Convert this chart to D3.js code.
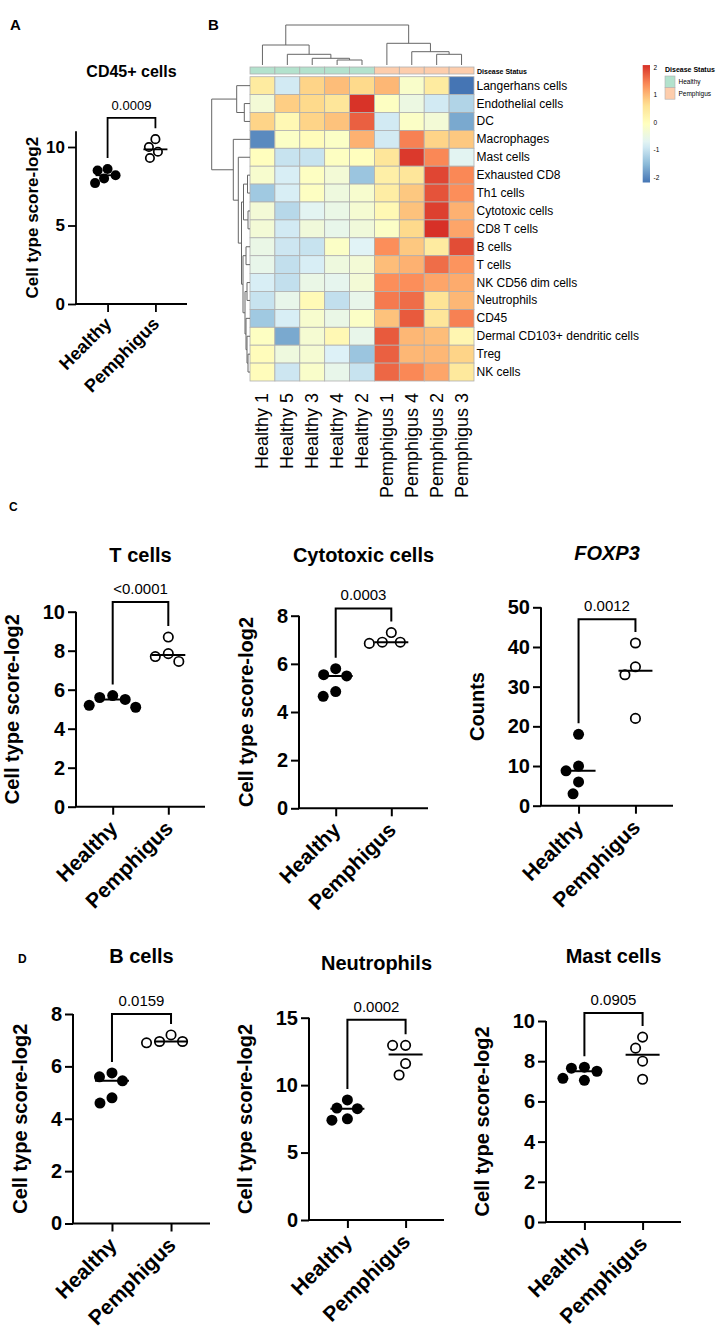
<!DOCTYPE html>
<html><head><meta charset="utf-8">
<script src="https://cdn.jsdelivr.net/npm/d3@7"></script>
<style>
body{margin:0;background:#fff}
svg text{font-family:"Liberation Sans",Arial,Helvetica,sans-serif;fill:#000}
</style>
</head><body>
<svg id="fig" width="720" height="1339"></svg>
<script>
// ================= DATA =================
const groups = ["Healthy", "Pemphigus"];

// Panel B heatmap
const heatColumns = ["Healthy 1","Healthy 5","Healthy 3","Healthy 4","Healthy 2","Pemphigus 1","Pemphigus 4","Pemphigus 2","Pemphigus 3"];
const heatRows = ["Langerhans cells","Endothelial cells","DC","Macrophages","Mast cells","Exhausted CD8","Th1 cells","Cytotoxic cells","CD8 T cells","B cells","T cells","NK CD56 dim cells","Neutrophils","CD45","Dermal CD103+ dendritic cells","Treg","NK cells"];
const heatValues = [
  [ 0.40,-0.90, 0.75, 0.95, 0.70, 1.00,-0.20, 0.40,-2.20],
  [-0.35, 0.80, 0.70, 0.50, 2.05,-0.10,-0.50,-0.90,-1.20],
  [ 0.75, 0.10, 0.75, 0.90, 1.70,-0.90,-0.15,-0.35,-1.70],
  [-2.00,-0.15, 0.00,-0.15, 1.05,-0.90, 1.45, 0.75, 0.85],
  [-0.05,-1.00,-1.00,-0.10,-0.05, 0.50, 2.00, 1.40,-0.70],
  [-0.25,-0.85,-0.10,-0.35,-1.40, 0.30, 0.50, 1.90, 1.40],
  [-1.35,-0.85,-0.10,-0.45,-0.25, 0.35, 0.85, 1.80, 1.35],
  [-0.35,-1.15,-0.70,-0.55,-0.30, 0.10, 0.90, 1.95, 1.05],
  [-0.35,-0.90,-0.40,-0.60,-0.40,-0.15, 0.70, 2.07, 1.15],
  [-0.55,-0.95,-1.00,-0.15,-0.75, 1.35, 0.85, 0.40, 1.85],
  [-0.60,-1.05,-0.85,-0.45,-0.35, 0.95, 1.05, 1.60, 1.30],
  [-0.85,-1.05,-0.55,-0.65,-0.35, 1.35, 1.35, 1.15, 1.10],
  [-1.00,-0.60, 0.05,-1.05,-0.60, 1.50, 1.60, 0.55, 1.00],
  [-1.35,-0.85,-0.25,-0.55,-0.15, 0.90, 1.75, 0.50, 1.45],
  [-0.10,-1.70,-0.30, 0.10,-0.60, 1.75, 1.00, 0.95, 0.15],
  [ 0.00,-0.45,-0.30,-0.80,-1.40, 1.70, 1.00, 1.00, 0.75],
  [ 0.00,-0.95,-0.20,-0.60,-1.00, 1.65, 1.40, 1.15, 0.45]
];
const colorLegendTicks = [2, 1, 0, -1, -2];
const annotationLevels = ["Healthy", "Pemphigus"];
// dendrograms: {h: merge height, c: children}
const columnTree = {h:40, c:[
  {h:20, c:["Healthy 1", {h:10.7, c:["Healthy 5", {h:6.7, c:["Healthy 3", {h:5, c:["Healthy 4","Healthy 2"]}]}]}]},
  {h:21.7, c:["Pemphigus 1", {h:13.3, c:["Pemphigus 4", {h:10.7, c:["Pemphigus 2","Pemphigus 3"]}]}]}
]};
const rowTree = {h:38.3, c:[
  {h:13.3, c:["Langerhans cells", {h:5.7, c:["Endothelial cells","DC"]}]},
  {h:16.7, c:["Macrophages", {h:11.7, c:["Mast cells", {h:8.5, c:[
     {h:6.5, c:[{h:2.5, c:["Exhausted CD8","Th1 cells"]}, {h:2, c:["Cytotoxic cells","CD8 T cells"]}]},
     {h:7, c:[{h:4, c:["B cells","T cells"]},
              {h:5, c:[{h:3, c:["NK CD56 dim cells","Neutrophils"]},
                       {h:4, c:["CD45", {h:3, c:["Dermal CD103+ dendritic cells", {h:2, c:["Treg","NK cells"]}]}]}]}]}
  ]}]}]}
]};

// Scatter panels
const cd45Healthy = [8.5, 8.6, 7.7, 8.0, 8.2];
const cd45Pemphigus = [10.0, 10.5, 9.3, 9.7];
const cd45Ticks = [0, 5, 10];

const tHealthy = [5.2, 5.7, 5.5, 5.6, 5.1];
const tPemphigus = [8.7, 7.45, 7.85, 7.7];
const tTicks = [0, 2, 4, 6, 8, 10];

const cytoHealthy = [5.8, 5.55, 5.5, 4.65, 4.85];
const cytoPemphigus = [7.3, 6.85, 6.9, 6.9];
const cytoTicks = [0, 2, 4, 6, 8];

const foxp3Healthy = [18, 8.8, 10, 6, 3];
const foxp3Pemphigus = [41, 35, 33, 22];
const foxp3Ticks = [0, 10, 20, 30, 40, 50];

const bHealthy = [5.75, 5.6, 5.45, 4.6, 4.8];
const bPemphigus = [7.2, 6.95, 6.9, 6.95];
const bTicks = [0, 2, 4, 6, 8];

const neutHealthy = [8.9, 8.3, 8.25, 7.4, 7.5];
const neutPemphigus = [12.95, 12.95, 11.6, 10.75];
const neutTicks = [0, 5, 10, 15];

const mastHealthy = [7.7, 7.65, 7.05, 7.15, 7.5];
const mastPemphigus = [9.2, 8.65, 8.0, 7.1];
const mastTicks = [0, 2, 4, 6, 8, 10];

const scatterPanels = [
  {key:"A", title:"CD45+ cells", italic:false, ylabel:"Cell type score-log2", healthy:cd45Healthy, pemphigus:cd45Pemphigus, ticks:cd45Ticks, yMax:11, p:"0.0009", bracket:11.85},
  {key:"T", title:"T cells", italic:false, ylabel:"Cell type score-log2", healthy:tHealthy, pemphigus:tPemphigus, ticks:tTicks, yMax:10, p:"<0.0001", bracket:10.5},
  {key:"Cyto", title:"Cytotoxic cells", italic:false, ylabel:"Cell type score-log2", healthy:cytoHealthy, pemphigus:cytoPemphigus, ticks:cytoTicks, yMax:8, p:"0.0003", bracket:8.3},
  {key:"FOXP3", title:"FOXP3", italic:true, ylabel:"Counts", healthy:foxp3Healthy, pemphigus:foxp3Pemphigus, ticks:foxp3Ticks, yMax:50, p:"0.0012", bracket:47},
  {key:"B", title:"B cells", italic:false, ylabel:"Cell type score-log2", healthy:bHealthy, pemphigus:bPemphigus, ticks:bTicks, yMax:8, p:"0.0159", bracket:8.0},
  {key:"Neut", title:"Neutrophils", italic:false, ylabel:"Cell type score-log2", healthy:neutHealthy, pemphigus:neutPemphigus, ticks:neutTicks, yMax:15, p:"0.0002", bracket:14.85},
  {key:"Mast", title:"Mast cells", italic:false, ylabel:"Cell type score-log2", healthy:mastHealthy, pemphigus:mastPemphigus, ticks:mastTicks, yMax:10, p:"0.0905", bracket:10.4}
];

const panelLetters = [
  {t:"A", x:10, y:30, s:15}, {t:"B", x:208, y:30, s:15},
  {t:"C", x:9, y:511, s:12}, {t:"D", x:18, y:963, s:12}
];

// ================= LAYOUT =================
const big = {titleSize:20, tickSize:20, labSize:21, pSize:15, ylabSize:20, r:5.5, gap:2, med:17, ylabGap:31, stroke:2, labDx:6, labDy:23};
const layout = {
  A:    Object.assign({}, big, {x0:76, x1:187, yTop:131.3, yBot:304, titleY:77, titleSize:16, tickSize:17, labSize:18, pSize:13, ylabSize:17, r:5, gap:0, med:12, ylabGap:14, stroke:1.8, labDx:5, labDy:21}),
  T:    Object.assign({}, big, {x0:76, x1:205, yTop:611.7, yBot:806.7, titleY:562}),
  Cyto: Object.assign({}, big, {x0:299, x1:428, yTop:615.7, yBot:808.3, titleY:562}),
  FOXP3:Object.assign({}, big, {x0:541, x1:673, yTop:607.3, yBot:805.7, titleY:560}),
  B:    Object.assign({}, big, {x0:73, x1:210, yTop:1014, yBot:1223.5, titleY:963}),
  Neut: Object.assign({}, big, {x0:309, x1:444, yTop:1017.7, yBot:1220, titleY:970}),
  Mast: Object.assign({}, big, {x0:546, x1:681, yTop:1021, yBot:1222, titleY:963})
};

const svg = d3.select("#fig");

// ================= HEATMAP =================
const hm = {x0:250, x1:474, y0:76.7, y1:381, annY0:67, annY1:74};
const xb = d3.scaleBand().domain(heatColumns).range([hm.x0, hm.x1]);
const yb = d3.scaleBand().domain(heatRows).range([hm.y0, hm.y1]);
const ext = d3.extent(heatValues.flat());
const palette = ["#4575B4","#91BFDB","#E0F3F8","#FFFFBF","#FEE090","#FC8D59","#D73027"];
const color = d3.scaleLinear()
  .domain(palette.map((_, i) => ext[0] + i * (ext[1] - ext[0]) / 6))
  .range(palette);
const annColor = d3.scaleOrdinal().domain(annotationLevels).range(["#B3E2CD", "#FDCDAC"]);

const gh = svg.append("g");
const cells = [];
heatValues.forEach((row, i) => row.forEach((v, j) => cells.push({r: heatRows[i], c: heatColumns[j], v})));
gh.selectAll("rect.cell").data(cells).join("rect")
  .attr("x", d => xb(d.c)).attr("y", d => yb(d.r))
  .attr("width", xb.bandwidth()).attr("height", yb.bandwidth())
  .attr("fill", d => color(d.v)).attr("stroke", "#b0b0b0").attr("stroke-width", 0.8);

// annotation bar
gh.selectAll("rect.ann").data(heatColumns).join("rect")
  .attr("x", d => xb(d)).attr("y", hm.annY0).attr("width", xb.bandwidth()).attr("height", hm.annY1 - hm.annY0)
  .attr("fill", d => annColor(d.split(" ")[0])).attr("stroke", "#b0b0b0").attr("stroke-width", 0.8);
gh.append("text").attr("x", 477).attr("y", hm.annY1 - 0.5).attr("font-size", 7).attr("font-weight", "bold").text("Disease Status");

// row labels
gh.selectAll("text.rl").data(heatRows).join("text")
  .attr("x", hm.x1 + 2.5).attr("y", d => yb(d) + yb.bandwidth() / 2)
  .attr("dominant-baseline", "central").attr("font-size", 12).text(d => d);

// column labels
gh.selectAll("text.cl").data(heatColumns).join("text")
  .attr("transform", d => `translate(${xb(d) + xb.bandwidth() / 2},${hm.y1 + 12}) rotate(-90)`)
  .attr("text-anchor", "end").attr("dominant-baseline", "central").attr("font-size", 18).text(d => d);

// dendrograms
function layoutTree(node, pos) {
  if (typeof node === "string") return {p: pos(node), h: 0};
  const kids = node.c.map(k => layoutTree(k, pos));
  return {p: d3.mean(kids, k => k.p), h: node.h, kids};
}
const colT = layoutTree(columnTree, n => xb(n) + xb.bandwidth() / 2);
const colH = d3.scaleLinear().domain([0, columnTree.h]).range([65, 25]);
const rowT = layoutTree(rowTree, n => yb(n) + yb.bandwidth() / 2);
const rowH = d3.scaleLinear().domain([0, rowTree.h]).range([hm.x0, 211.7]);
const gd = svg.append("g").attr("fill", "none").attr("stroke", "#666").attr("stroke-width", 1);
function drawCol(n) {
  if (!n.kids) return;
  const [a, b] = n.kids;
  gd.append("path").attr("d", `M${a.p},${colH(a.h)}V${colH(n.h)}H${b.p}V${colH(b.h)}`);
  n.kids.forEach(drawCol);
}
function drawRow(n) {
  if (!n.kids) return;
  const [a, b] = n.kids;
  gd.append("path").attr("d", `M${rowH(a.h)},${a.p}H${rowH(n.h)}V${b.p}H${rowH(b.h)}`);
  n.kids.forEach(drawRow);
}
drawCol(colT); drawRow(rowT);

// colour legend
const ly = d3.scaleLinear().domain([-2, 2]).range([177, 67]);
const defs = svg.append("defs");
const grad = defs.append("linearGradient").attr("id", "hmgrad").attr("x1", 0).attr("x2", 0).attr("y1", 1).attr("y2", 0);
d3.range(0, 1.0001, 0.05).forEach(t => {
  grad.append("stop").attr("offset", t).attr("stop-color", color(ext[0] + t * (ext[1] - ext[0])));
});
svg.append("rect").attr("x", 642.7).attr("y", ly(ext[1])).attr("width", 7.3).attr("height", ly(ext[0]) - ly(ext[1])).attr("fill", "url(#hmgrad)");
svg.selectAll("text.lt").data(colorLegendTicks).join("text")
  .attr("x", 653.5).attr("y", d => ly(d)).attr("dominant-baseline", "central").attr("font-size", 6.5).text(d => d);
svg.append("text").attr("x", 665).attr("y", 71.5).attr("font-size", 7).attr("font-weight", "bold").text("Disease Status");
annotationLevels.forEach((lv, i) => {
  svg.append("rect").attr("x", 665).attr("y", 76 + i * 11.6).attr("width", 10).attr("height", 11.6)
    .attr("fill", annColor(lv)).attr("stroke", "#b0b0b0").attr("stroke-width", 0.6);
  svg.append("text").attr("x", 678.5).attr("y", 81.8 + i * 11.6).attr("dominant-baseline", "central").attr("font-size", 6.5).text(lv);
});

// ================= SCATTER PANELS =================
function swarm(vals, y, cx, r, gap) {
  const pts = vals.map(v => ({v, y: y(v)}));
  const order = pts.slice().sort((a, b) => b.v - a.v);
  const placed = [];
  const minD = 2 * r + gap;
  order.forEach(p => {
    let best = 0;
    for (let k = 0; k < 400; k++) {
      const off = (k % 2 === 0 ? 1 : -1) * Math.ceil(k / 2) * 0.5;
      const ok = placed.every(q => Math.hypot(q.x - (cx + off), q.y - p.y) >= minD);
      if (ok) { best = off; break; }
    }
    p.x = cx + best;
    placed.push(p);
  });
  return pts;
}

scatterPanels.forEach(P => {
  const L = layout[P.key];
  const g = svg.append("g");
  const x = d3.scalePoint().domain(groups).range([L.x0, L.x1]).padding(0.66);
  const y = d3.scaleLinear().domain([0, P.yMax]).range([L.yBot, L.yTop]);

  // axes
  const yAx = g.append("g").attr("transform", `translate(${L.x0},0)`)
    .call(d3.axisLeft(y).tickValues(P.ticks).tickSize(8).tickPadding(3).tickFormat(d3.format("d")));
  yAx.select(".domain").attr("stroke-width", L.stroke).attr("d", `M0,${L.yTop}V${L.yBot}`);
  yAx.selectAll(".tick line").attr("stroke-width", L.stroke);
  yAx.selectAll(".tick text").attr("font-size", L.tickSize).attr("font-weight", "bold")
    .attr("font-family", '"Liberation Sans",Arial,sans-serif').attr("fill", "#000");
  const xAx = g.append("g").attr("transform", `translate(0,${L.yBot})`)
    .call(d3.axisBottom(x).tickSize(8).tickFormat(""));
  xAx.select(".domain").attr("stroke-width", L.stroke).attr("d", `M${L.x0 - L.stroke / 2},0H${L.x1}`);
  xAx.selectAll(".tick line").attr("stroke-width", L.stroke);

  // rotated group labels
  g.selectAll("text.gl").data(groups).join("text")
    .attr("transform", d => `translate(${x(d) + L.labDx},${L.yBot + L.labDy}) rotate(-45)`)
    .attr("text-anchor", "end").attr("font-size", L.labSize).attr("font-weight", "bold").text(d => d);

  // y label
  let minLeft = Infinity;
  yAx.selectAll(".tick text").each(function () { minLeft = Math.min(minLeft, this.getBBox().x + L.x0); });
  const ylx = minLeft - L.ylabGap;
  g.append("text").attr("transform", `translate(${ylx},${(L.yTop + L.yBot) / 2}) rotate(-90)`)
    .attr("text-anchor", "middle").attr("dominant-baseline", "central")
    .attr("font-size", L.ylabSize).attr("font-weight", "bold").text(P.ylabel);

  // title
  const mid = (x(groups[0]) + x(groups[1])) / 2;
  g.append("text").attr("x", mid).attr("y", L.titleY).attr("text-anchor", "middle")
    .attr("font-size", L.titleSize).attr("font-weight", "bold")
    .attr("font-style", P.italic ? "italic" : "normal").text(P.title);

  // bracket + p value
  const legL = y(d3.max(P.healthy)) - 11;
  const legR = y(d3.max(P.pemphigus)) - 11;
  const top = y(P.bracket);
  g.append("path").attr("fill", "none").attr("stroke", "#000").attr("stroke-width", L.stroke)
    .attr("d", `M${x(groups[0])},${legL}V${top}H${x(groups[1])}V${legR}`);
  g.append("text").attr("x", mid).attr("y", top - 8).attr("text-anchor", "middle")
    .attr("font-size", L.pSize).text(P.p);

  // points
  [[P.healthy, groups[0], "#000"], [P.pemphigus, groups[1], "#fff"]].forEach(([vals, grp, fill]) => {
    const pts = swarm(vals, y, x(grp), L.r, L.gap);
    g.selectAll(null).data(pts).join("circle")
      .attr("cx", d => d.x).attr("cy", d => d.y).attr("r", fill === "#000" ? L.r : L.r - 0.8)
      .attr("fill", fill).attr("stroke", "#000").attr("stroke-width", fill === "#000" ? 0 : 1.7);
    const med = d3.median(vals);
    g.append("line").attr("x1", x(grp) - L.med).attr("x2", x(grp) + L.med)
      .attr("y1", y(med)).attr("y2", y(med)).attr("stroke", "#000").attr("stroke-width", L.stroke);
  });
});

// panel letters
svg.selectAll("text.pl").data(panelLetters).join("text")
  .attr("x", d => d.x).attr("y", d => d.y).attr("font-size", d => d.s).attr("font-weight", "bold").text(d => d.t);
</script>
</body></html>
